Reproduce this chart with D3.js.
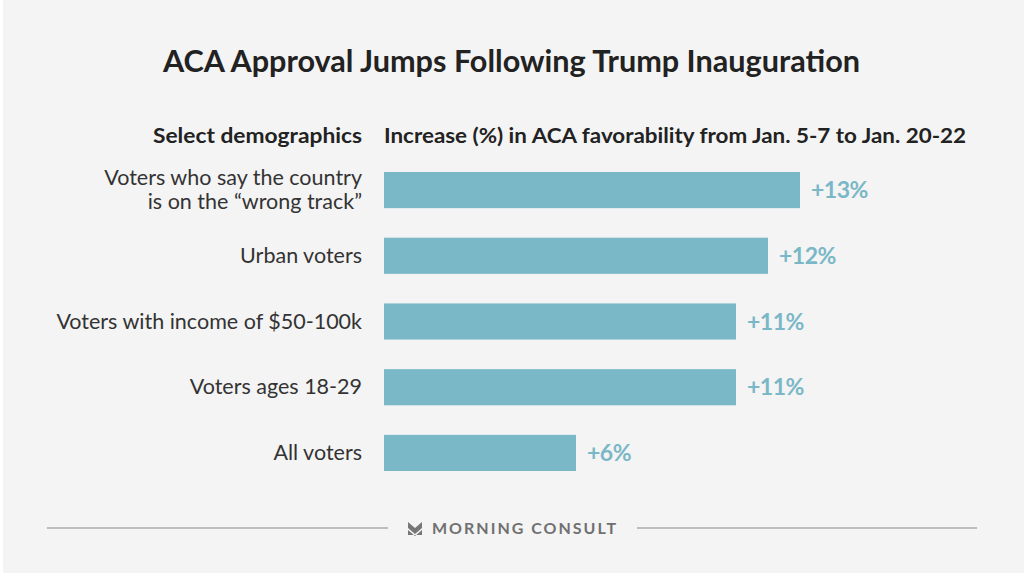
<!DOCTYPE html>
<html><head><meta charset="utf-8">
<script src="https://cdnjs.cloudflare.com/ajax/libs/d3/7.8.5/d3.min.js"></script>
<style>
html,body{margin:0;padding:0;background:#fff;}
svg{display:block;}
</style></head>
<body>
<svg id="chart" width="1024" height="573"></svg>
<script>
const titleText = "ACA Approval Jumps Following Trump Inauguration";
const leftHeader = "Select demographics";
const rightHeader = "Increase (%) in ACA favorability from Jan. 5-7 to Jan. 20-22";
const categories = [
  ["Voters who say the country", "is on the \u201Cwrong track\u201D"],
  ["Urban voters"],
  ["Voters with income of $50-100k"],
  ["Voters ages 18-29"],
  ["All voters"]
];
const values = [13, 12, 11, 11, 6];
const footerText = "MORNING CONSULT";

const svg = d3.select("#chart");
const W = 1024, H = 573;
const font = "Lato, 'Open Sans', sans-serif";
const barColor = "#7ab7c7";

svg.append("rect").attr("x", 3).attr("y", 0).attr("width", W - 3).attr("height", H).attr("fill", "#f4f4f4");

svg.append("text").attr("x", 163).attr("y", 72)
  .attr("font-family", font).attr("font-weight", 700).attr("font-size", 31)
  .attr("fill", "#222").attr("textLength", 697).attr("lengthAdjust", "spacingAndGlyphs")
  .text(titleText);

svg.append("text").attr("x", 362).attr("y", 143).attr("text-anchor", "end")
  .attr("font-family", font).attr("font-weight", 700).attr("font-size", 20)
  .attr("fill", "#222").attr("textLength", 209).attr("lengthAdjust", "spacingAndGlyphs")
  .text(leftHeader);
svg.append("text").attr("x", 384).attr("y", 143)
  .attr("font-family", font).attr("font-weight", 700).attr("font-size", 20)
  .attr("fill", "#222").attr("textLength", 582).attr("lengthAdjust", "spacingAndGlyphs")
  .text(rightHeader);

const x = d3.scaleLinear().domain([0, 13]).range([384, 800]);
const y = d3.scaleBand().domain(d3.range(values.length)).range([172, 471]).paddingInner(0.45).paddingOuter(0);

svg.append("g").selectAll("rect").data(values).join("rect")
  .attr("x", x(0)).attr("y", (d, i) => y(i))
  .attr("width", d => x(d) - x(0)).attr("height", y.bandwidth())
  .attr("fill", barColor);

svg.append("g").selectAll("text").data(values).join("text")
  .attr("x", d => x(d) + 11).attr("y", (d, i) => y(i) + y.bandwidth() / 2 + 8)
  .attr("font-family", font).attr("font-weight", 700).attr("font-size", 23)
  .attr("fill", barColor).attr("letter-spacing", -0.5)
  .text(d => "+" + d + "%");

const lab = svg.append("g").selectAll("text").data(categories).join("text")
  .attr("text-anchor", "end")
  .attr("font-family", font).attr("font-size", 21.5).attr("fill", "#333");
lab.each(function(lines, i) {
  const cy = y(i) + y.bandwidth() / 2;
  const lh = 24;
  const start = cy - (lines.length - 1) * lh / 2 + 7;
  d3.select(this).selectAll("tspan").data(lines).join("tspan")
    .attr("x", 362).attr("y", (l, j) => start + j * lh).text(l => l);
});

svg.append("line").attr("x1", 47).attr("x2", 388).attr("y1", 528).attr("y2", 528)
  .attr("stroke", "#bdbdbd").attr("stroke-width", 2);
svg.append("line").attr("x1", 637).attr("x2", 977).attr("y1", 528).attr("y2", 528)
  .attr("stroke", "#bdbdbd").attr("stroke-width", 2);

// logo mark
svg.append("path")
  .attr("d", "M408,522 L415,528 L422,522 L422,528 L415,534 L408,528 Z M408,530 L415,536 L422,530 L422,535 L408,535 Z")
  .attr("fill", "#777");
svg.append("text").attr("x", 432).attr("y", 534)
  .attr("font-family", font).attr("font-weight", 700).attr("font-size", 16)
  .attr("fill", "#707070").attr("textLength", 184).attr("lengthAdjust", "spacing")
  .text(footerText);
</script>
</body></html>
